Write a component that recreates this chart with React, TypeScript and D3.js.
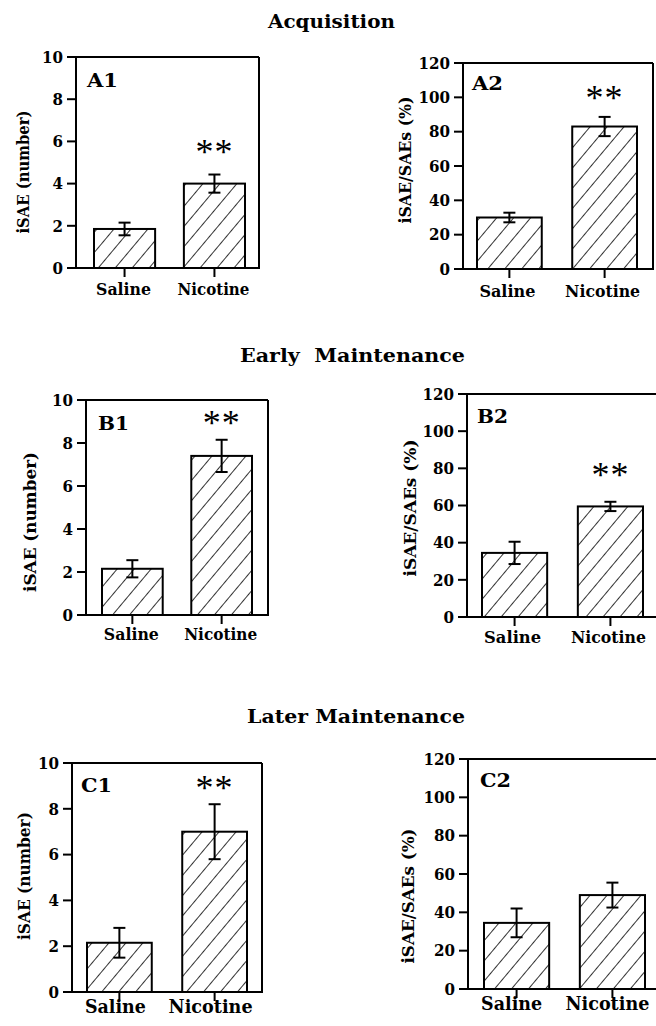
import React from "react";
import * as d3 from "d3";

// Groups and values (mean ± SEM) for each panel
const categories = ["Saline", "Nicotine"];

const a1Means = [1.85, 4.0];
const a1Sems = [0.3, 0.43];
const a2Means = [30, 83];
const a2Sems = [2.8, 5.6];

const b1Means = [2.15, 7.4];
const b1Sems = [0.4, 0.75];
const b2Means = [34.5, 59.5];
const b2Sems = [6, 2.5];

const c1Means = [2.15, 7.0];
const c1Sems = [0.65, 1.2];
const c2Means = [34.5, 49];
const c2Sems = [7.5, 6.5];

// Significance markers per group
const a1Sig = ["", "**"];
const a2Sig = ["", "**"];
const b1Sig = ["", "**"];
const b2Sig = ["", "**"];
const c1Sig = ["", "**"];
const c2Sig = ["", ""];

const countTicks = [0, 2, 4, 6, 8, 10];
const pctTicks = [0, 20, 40, 60, 80, 100, 120];

const sectionTitles = ["Acquisition", "Early  Maintenance", "Later Maintenance"];
const countLabel = "iSAE (number)";
const pctLabel = "iSAE/SAEs (%)";

const FONT = "'DejaVu Serif', 'Liberation Serif', serif";
const STAR_FONT = "'Liberation Serif', serif";

type Layout = {
  left: number; right: number; top: number; bottom: number;
  bars: [number, number];
  letterX: number; letterY: number;
  yLabelX: number; yLabelY: number; yLabelLen: number;
  catY: number; catDx: number; catSize: number; catLens: number[];
  sigY: number;
};

type Panel = {
  name: string;
  means: number[];
  sems: number[];
  sig: string[];
  ticks: number[];
  yLabel: string;
  layout: Layout;
};

const panels: Panel[] = [
  {
    name: "A1", means: a1Means, sems: a1Sems, sig: a1Sig, ticks: countTicks, yLabel: countLabel,
    layout: { left: 76, right: 259, top: 57, bottom: 268, bars: [94, 245], letterX: 87, letterY: 87,
      yLabelX: 29, yLabelY: 172, yLabelLen: 123, catY: 295, catDx: -1, catSize: 17, catLens: [55, 72], sigY: 147 },
  },
  {
    name: "A2", means: a2Means, sems: a2Sems, sig: a2Sig, ticks: pctTicks, yLabel: pctLabel,
    layout: { left: 463, right: 653, top: 63, bottom: 269, bars: [477, 637], letterX: 472, letterY: 90,
      yLabelX: 411, yLabelY: 160, yLabelLen: 127, catY: 297, catDx: -2, catSize: 17, catLens: [56, 75], sigY: 93 },
  },
  {
    name: "B1", means: b1Means, sems: b1Sems, sig: b1Sig, ticks: countTicks, yLabel: countLabel,
    layout: { left: 86, right: 268, top: 400, bottom: 615, bars: [102, 252], letterX: 98, letterY: 430,
      yLabelX: 36, yLabelY: 522, yLabelLen: 140, catY: 640, catDx: -1, catSize: 17, catLens: [55, 73], sigY: 418 },
  },
  {
    name: "B2", means: b2Means, sems: b2Sems, sig: b2Sig, ticks: pctTicks, yLabel: pctLabel,
    layout: { left: 467, right: 662, top: 394, bottom: 617, bars: [482, 643], letterX: 477, letterY: 423,
      yLabelX: 416, yLabelY: 508, yLabelLen: 137, catY: 643, catDx: -2, catSize: 17, catLens: [57, 75], sigY: 470 },
  },
  {
    name: "C1", means: c1Means, sems: c1Sems, sig: c1Sig, ticks: countTicks, yLabel: countLabel,
    layout: { left: 72, right: 262, top: 763, bottom: 992, bars: [87, 247], letterX: 81, letterY: 792,
      yLabelX: 30, yLabelY: 876, yLabelLen: 128, catY: 1013, catDx: -4, catSize: 19, catLens: [61, 84], sigY: 783 },
  },
  {
    name: "C2", means: c2Means, sems: c2Sems, sig: c2Sig, ticks: pctTicks, yLabel: pctLabel,
    layout: { left: 468, right: 662, top: 759, bottom: 989, bars: [484, 645], letterX: 480, letterY: 787,
      yLabelX: 414, yLabelY: 896, yLabelLen: 135, catY: 1010, catDx: -5, catSize: 19, catLens: [61, 84], sigY: 0 },
  },
];

const titleLayout = [
  { x: 331.5, y: 28, len: 127 },
  { x: 352.5, y: 362, len: 225 },
  { x: 356, y: 723, len: 218 },
];

const TICK = 9;
const STROKE = 2;

function BarPanel({ p }: { p: Panel }) {
  const L = p.layout;
  const max = p.ticks[p.ticks.length - 1];
  const y = d3.scaleLinear().domain([0, max]).range([L.bottom, L.top]);
  const x = d3.scaleBand<string>().domain(categories).range(L.bars).paddingInner(0.32);
  const bw = x.bandwidth();
  const cap = 6;

  return (
    <g>
      {/* frame and axes */}
      <line x1={L.left - TICK} x2={L.right} y1={L.top} y2={L.top} stroke="#000" strokeWidth={STROKE} />
      <line x1={L.left - TICK} x2={L.right + 1} y1={L.bottom} y2={L.bottom} stroke="#000" strokeWidth={STROKE} />
      <line x1={L.left} x2={L.left} y1={L.top} y2={L.bottom} stroke="#000" strokeWidth={STROKE} />
      <line x1={L.right} x2={L.right} y1={L.top} y2={L.bottom} stroke="#000" strokeWidth={STROKE} />

      {p.ticks.map((t) => (
        <g key={t}>
          <line x1={L.left - TICK} x2={L.left} y1={y(t)} y2={y(t)} stroke="#000" strokeWidth={STROKE} />
          <text
            x={L.left - TICK - 4}
            y={y(t)}
            dy="0.36em"
            textAnchor="end"
            fontFamily={FONT}
            fontWeight="bold"
            fontSize={16}
            textLength={String(t).length * 10.5}
            lengthAdjust="spacingAndGlyphs"
          >
            {t}
          </text>
        </g>
      ))}

      {/* bars */}
      {categories.map((c, i) => {
        const x0 = x(c)!;
        const cx = x0 + bw / 2;
        const m = p.means[i];
        const s = p.sems[i];
        return (
          <g key={c}>
            <rect x={x0} y={y(m)} width={bw} height={L.bottom - y(m)} fill="url(#hatch)" stroke="#000" strokeWidth={STROKE} />
            <line x1={cx} x2={cx} y1={y(m - s)} y2={y(m + s)} stroke="#000" strokeWidth={STROKE} />
            <line x1={cx - cap} x2={cx + cap} y1={y(m + s)} y2={y(m + s)} stroke="#000" strokeWidth={STROKE} />
            <line x1={cx - cap} x2={cx + cap} y1={y(m - s)} y2={y(m - s)} stroke="#000" strokeWidth={STROKE} />
            <line x1={cx} x2={cx} y1={L.bottom} y2={L.bottom + TICK} stroke="#000" strokeWidth={STROKE} />
            <text
              x={cx + L.catDx}
              y={L.catY}
              textAnchor="middle"
              fontFamily={FONT}
              fontWeight="bold"
              fontSize={L.catSize}
              textLength={L.catLens[i]}
              lengthAdjust="spacingAndGlyphs"
            >
              {c}
            </text>
            {p.sig[i] && (
              <text
                x={cx}
                y={L.sigY + 17}
                textAnchor="middle"
                fontFamily={STAR_FONT}
                fontSize={36}
                letterSpacing={1}
              >
                {p.sig[i]}
              </text>
            )}
          </g>
        );
      })}

      {/* panel letter */}
      <text x={L.letterX} y={L.letterY} fontFamily={FONT} fontWeight="bold" fontSize={18} textLength={31} lengthAdjust="spacingAndGlyphs">
        {p.name}
      </text>

      {/* y-axis label */}
      <text
        transform={`translate(${L.yLabelX},${L.yLabelY}) rotate(-90)`}
        textAnchor="middle"
        fontFamily={FONT}
        fontWeight="bold"
        fontSize={16}
        textLength={L.yLabelLen}
        lengthAdjust="spacingAndGlyphs"
      >
        {p.yLabel}
      </text>
    </g>
  );
}

export default function App() {
  return (
    <svg
      width={656}
      height={1026}
      style={{ position: "absolute", left: 0, top: 0, background: "#fff", display: "block" }}
    >
      <defs>
        <pattern id="hatch" patternUnits="userSpaceOnUse" width={13} height={13} patternTransform="rotate(40)">
          <line x1={0} y1={0} x2={0} y2={13} stroke="#000" strokeWidth={1.6} />
        </pattern>
      </defs>
      <rect x={0} y={0} width={656} height={1026} fill="#fff" />
      {sectionTitles.map((t, i) => (
        <text
          key={t}
          x={titleLayout[i].x}
          y={titleLayout[i].y}
          textAnchor="middle"
          fontFamily={FONT}
          fontWeight="bold"
          fontSize={19}
          textLength={titleLayout[i].len}
          lengthAdjust="spacingAndGlyphs"
          style={{ whiteSpace: "pre" }}
        >
          {t}
        </text>
      ))}
      {panels.map((p) => (
        <BarPanel key={p.name} p={p} />
      ))}
    </svg>
  );
}
